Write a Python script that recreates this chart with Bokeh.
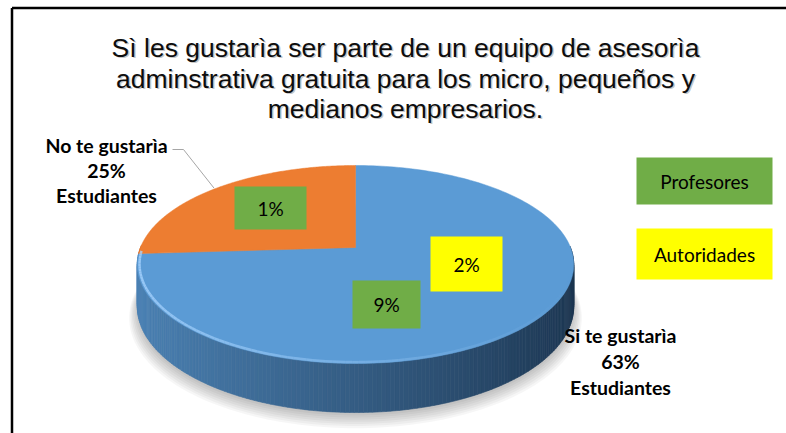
import numpy as np
from bokeh.plotting import figure
from bokeh.models import Range1d
from bokeh.embed import file_html
from bokeh.resources import INLINE
from bokeh.core.properties import value

# ---------------- data ----------------
title_lines = ["Sì les gustarìa ser parte de un equipo de asesorìa",
               "adminstrativa gratuita para los micro, pequeños y",
               "medianos empresarios."]
categories = ["Si te gustarìa", "No te gustarìa"]
estudiantes = [63, 25]
profesores = [9, 1]
autoridades = [2, 0]
group_name = "Estudiantes"
legend_labels = ["Profesores", "Autoridades"]

# ---------------- style ----------------
slice_colors = ["#5b9bd5", "#ed7d31"]
side_dark = ["#0c1b2e", "#4a2008"]
green, yellow = "#70ad47", "#ffff00"
W, H = 786, 433
OFF = 0  # layout constants below are in page pixels

def hex2rgb(h):
    h = h.lstrip("#")
    return np.array([int(h[i:i + 2], 16) for i in (0, 2, 4)], float)

def mix(c1, c2, t):
    c = hex2rgb(c1) * (1 - t) + hex2rgb(c2) * t
    return "#%02x%02x%02x" % tuple(int(round(x)) for x in c)

p = figure(width=W, height=H, x_range=Range1d(0, W), y_range=Range1d(H, 0),
           output_backend="svg", toolbar_location=None, min_border=0,
           x_axis_type=None, y_axis_type=None)
p.grid.visible = False
p.outline_line_color = None
p.background_fill_color = "white"
p.border_fill_color = "white"

# frame (left + top lines)
p.line([11.5, 11.5], [7.5, H], line_color="black", line_width=2.5)
p.line([11.5, W], [7.5, 7.5], line_color="black", line_width=2.5)

# ---------------- 3D pie geometry ----------------
CX, CY = 355 - OFF, 247 - OFF
RA, RB, K, TH = 96.1, 215.0, 0.1717, 40.6

def proj(phi_deg, r=1.0, h=0.0):
    ph = np.radians(phi_deg)
    u = r * np.cos(ph)
    v = r * np.sin(ph)
    w = 1 + K * v
    return CX + RB * u / w, CY - RA * v / w + TH * h / w

totals = [e + pr + a for e, pr, a in zip(estudiantes, profesores, autoridades)]
fracs = np.array(totals, float) / sum(totals)
starts, ends = [], []
ang = 90.0
for f in fracs:
    starts.append(ang)
    ends.append(ang - f * 360)
    ang -= f * 360

# shadow under the pie
full = np.linspace(0, 360, 241)
for i in range(7):
    sx, sy = proj(full, 1.0 + 0.006 * i, 1.0)
    p.patch(sx, np.array(sy) + 3 + i * 1.2, fill_color="#000000",
            fill_alpha=0.035, line_color=None)

# side wall quads
quads = []
for i in range(len(totals)):
    angs = np.linspace(ends[i], starts[i], max(3, int(abs(starts[i] - ends[i])) + 1))
    for a0, a1 in zip(angs[:-1], angs[1:]):
        mid = (a0 + a1) / 2
        if np.sin(np.radians(mid)) > 0.02:
            continue
        x0t, y0t = proj(a0)
        x1t, y1t = proj(a1)
        x0b, y0b = proj(a0, h=1)
        x1b, y1b = proj(a1, h=1)
        u = np.cos(np.radians(mid))
        col = mix(slice_colors[i], side_dark[i], 0.18 + 0.31 * (u + 1))
        quads.append((np.sin(np.radians(mid)), [x0t, x1t, x1b, x0b],
                      [y0t, y1t, y1b, y0b], col))
quads.sort(key=lambda q: -q[0])
p.patches([q[1] for q in quads], [q[2] for q in quads],
          fill_color=[q[3] for q in quads], line_color=[q[3] for q in quads],
          line_width=0.6)

# top faces
for i in range(len(totals)):
    angs = np.linspace(starts[i], ends[i], 200)
    xs, ys = proj(angs)
    xs = np.concatenate([[CX], xs])
    ys = np.concatenate([[CY], ys])
    p.patch(xs, ys, fill_color=slice_colors[i], line_color=slice_colors[i],
            line_width=0.5)

# rim highlight on the front edge
hl_x, hl_y, hl_a = [], [], []
rim = np.linspace(-178, -2, 120)
for a0, a1 in zip(rim[:-1], rim[1:]):
    x0, y0 = proj(a0, 0.99)
    x1, y1 = proj(a1, 0.99)
    u = np.cos(np.radians((a0 + a1) / 2))
    hl_x.append([x0, x1])
    hl_y.append([y0, y1])
    hl_a.append(0.8 * max(0.0, (1 - u) / 2) ** 1.2)
p.multi_line(hl_x, hl_y, line_color="#a8d4ff", line_alpha=hl_a, line_width=2.5)

# ---------------- labels ----------------
# leader line for the "No" slice
mid_no = (starts[1] + ends[1]) / 2
ex, ey = proj(mid_no, 1.01)
p.line([172 - OFF, 183 - OFF, ex], [149 - OFF, 149 - OFF, ey],
       line_color="#a6a6a6", line_width=1)

lab_font = value("Lato")
# outside data labels
lab_pos = {0: (620 - OFF, [335 - OFF, 361 - OFF, 387 - OFF]),
           1: (106 - OFF, [145 - OFF, 170 - OFF, 195 - OFF])}
tx, ty, tt = [], [], []
for i in range(len(categories)):
    x, ys = lab_pos[i]
    for txt, y in zip([categories[i], f"{estudiantes[i]}%", group_name], ys):
        tx.append(x); ty.append(y); tt.append(txt)
p.text(tx, ty, text=tt, text_font=lab_font, text_font_style="bold",
       text_font_size="19.5px", text_color="black", text_align="center",
       text_baseline="middle")

# inner boxes (profesores / autoridades)
box_vals = [profesores[1], profesores[0], autoridades[0]]
box_cols = [green, green, yellow]
box_x = [270 - OFF, 386 - OFF, 466 - OFF]
box_y = [207.5 - OFF, 304 - OFF, 263.5 - OFF]
box_w = [72, 68, 72]
box_h = [43, 48, 55]
p.rect(box_x, box_y, width=box_w, height=box_h, fill_color=box_cols,
       line_color=None)
p.text(box_x, box_y, text=[f"{v}%" for v in box_vals], text_font=lab_font,
       text_font_size="19px", text_color="black", text_align="center",
       text_baseline="middle")

# legend-like boxes
leg_x = [704 - OFF, 704 - OFF]
leg_y = [180.5 - OFF, 253.5 - OFF]
p.rect(leg_x, leg_y, width=136, height=[47, 51], fill_color=[green, yellow],
       line_color=None)
p.text(leg_x, leg_y, text=legend_labels, text_font=lab_font,
       text_font_size="19px", text_color="black", text_align="center",
       text_baseline="middle")

# title with soft shadow
tl_x = [405 - OFF] * 3
tl_y = [47 - OFF, 78 - OFF, 108 - OFF]
p.text([x + 1.5 for x in tl_x], [y + 1.5 for y in tl_y], text=title_lines,
       text_font=value("Liberation Sans"), text_font_size="26.5px",
       text_color="#808080", text_alpha=0.45, text_align="center",
       text_baseline="middle")
p.text(tl_x, tl_y, text=title_lines, text_font=value("Liberation Sans"),
       text_font_size="26.5px", text_color="#0d0d0d", text_align="center",
       text_baseline="middle")

open("out.html", "w").write(file_html(p, INLINE))
